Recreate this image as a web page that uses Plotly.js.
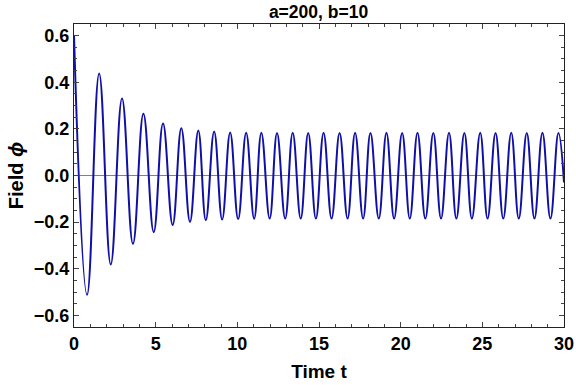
<!DOCTYPE html>
<html>
<head>
<meta charset="utf-8">
<script src="https://cdn.plot.ly/plotly-3.0.1.min.js"></script>
<style>
  html, body { margin: 0; padding: 0; background: #fff; }
  #plot { width: 576px; height: 385px; }
</style>
</head>
<body>
<div id="plot"></div>
<script>
// extrema of the field (peaks and troughs), plus start and end
var peakTimes = [0, 1.54, 2.94, 4.25, 5.45, 6.57, 7.61, 8.58, 9.56, 10.54, 11.47, 12.43, 13.39, 14.34,
    15.28, 16.26, 17.21, 18.15, 19.13, 20.09, 21.03, 22.00, 22.96, 23.90, 24.87, 25.81, 26.77, 27.72, 28.68, 29.66];
var peakValues = [0.600, 0.438, 0.330, 0.265, 0.223, 0.203, 0.193, 0.189, 0.184, 0.183, 0.183, 0.182, 0.183, 0.182,
    0.183, 0.182, 0.183, 0.182, 0.183, 0.182, 0.183, 0.182, 0.183, 0.182, 0.183, 0.182, 0.183, 0.182, 0.183, 0.182];
var troughTimes = [0.80, 2.25, 3.61, 4.88, 6.04, 7.10, 8.07, 9.07, 10.05, 11.03, 11.98, 12.93, 13.88, 14.81,
    15.77, 16.75, 17.70, 18.66, 19.60, 20.56, 21.51, 22.47, 23.41, 24.36, 25.32, 26.28, 27.23, 28.19, 29.17];
var troughValues = [-0.512, -0.382, -0.293, -0.243, -0.212, -0.199, -0.192, -0.189, -0.187, -0.186, -0.185, -0.185, -0.185, -0.185,
    -0.185, -0.185, -0.185, -0.185, -0.185, -0.185, -0.185, -0.185, -0.185, -0.185, -0.185, -0.185, -0.185, -0.185, -0.185];
var endTime = 30;
var endValue = -0.03;

var t = [];
var phi = [];
for (var i = 0; i < peakTimes.length; i++) {
    t.push(peakTimes[i]);
    phi.push(peakValues[i]);
    if (i < troughTimes.length) {
        t.push(troughTimes[i]);
        phi.push(troughValues[i]);
    }
}
t.push(endTime);
phi.push(endValue);

var fontName = 'Liberation Sans, Arial, sans-serif';
var tickFont = { family: fontName, size: 18, color: '#000' };

var trace = {
    x: t,
    y: phi,
    type: 'scatter',
    mode: 'lines',
    line: { color: '#1010a8', width: 2, shape: 'spline', smoothing: 1.2 },
    hoverinfo: 'skip'
};

var layout = {
    width: 576,
    height: 385,
    margin: { l: 74, r: 12, t: 24, b: 58 },
    paper_bgcolor: '#fff',
    plot_bgcolor: '#fff',
    showlegend: false,
    title: {
        text: '<b>a=200, b=10</b>',
        font: { family: fontName, size: 17.5, color: '#000' },
        x: 0.553, xanchor: 'center',
        y: 0.985, yanchor: 'top'
    },
    xaxis: {
        range: [0, 30],
        showgrid: false,
        zeroline: false,
        showline: true,
        linecolor: '#222',
        linewidth: 1,
        mirror: 'allticks',
        ticks: 'inside',
        ticklen: 5,
        tickcolor: '#444',
        tickmode: 'linear',
        tick0: 0,
        dtick: 5,
        minor: { dtick: 1, ticks: 'inside', ticklen: 3, tickcolor: '#444' },
        tickfont: tickFont,
        tickprefix: '<b>', ticksuffix: '</b>',
        title: { text: '<b>Time t</b>', font: { family: fontName, size: 19, color: '#000' }, standoff: 12 }
    },
    yaxis: {
        range: [-0.65, 0.65],
        showgrid: false,
        zeroline: true,
        zerolinecolor: '#808080',
        zerolinewidth: 1,
        showline: true,
        linecolor: '#222',
        linewidth: 1,
        mirror: 'allticks',
        ticks: 'inside',
        ticklen: 5,
        tickcolor: '#444',
        tickmode: 'linear',
        tick0: 0,
        dtick: 0.2,
        tickformat: '.1f',
        minor: { dtick: 0.05, ticks: 'inside', ticklen: 3, tickcolor: '#444' },
        tickfont: tickFont,
        tickprefix: '<b>', ticksuffix: '</b>',
        title: { text: '<b>Field <i>ϕ</i></b>', font: { family: fontName, size: 20, color: '#000' }, standoff: 4 }
    }
};

Plotly.newPlot('plot', [trace], layout, { displayModeBar: false, staticPlot: true });
</script>
</body>
</html>
